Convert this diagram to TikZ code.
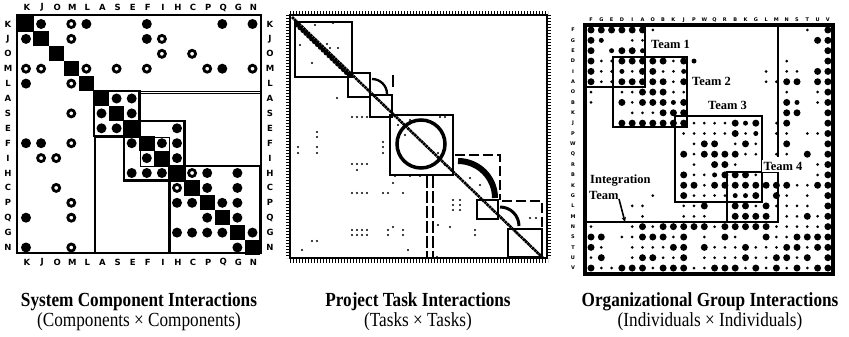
\documentclass[tikz,border=0pt]{standalone}
\usepackage{fontspec}
\setmainfont{Liberation Serif}
\newfontfamily\capfont[FakeStretch=0.86]{Liberation Serif}
\newfontfamily\labfont{DejaVu Sans}
\usetikzlibrary{arrows.meta}
\begin{document}
\begin{tikzpicture}[x=1pt,y=-1pt,
  lab/.style={font=\labfont\bfseries\fontsize{8.5}{8.5}\selectfont, inner sep=0pt},
  tinylab/.style={font=\labfont\bfseries\fontsize{5}{5}\selectfont, inner sep=0pt},
  teamlab/.style={font=\bfseries\fontsize{12.5}{13}\selectfont, inner sep=0pt, anchor=west},
  capA/.style={font=\capfont\bfseries\fontsize{20}{20}\selectfont, inner sep=0pt, anchor=base},
  capB/.style={font=\capfont\fontsize{20}{20}\selectfont, inner sep=0pt, anchor=base},
  thinbox/.style={line width=0.9pt},
  thickbox/.style={line width=2.2pt},
  dashbox/.style={line width=2pt, dash pattern=on 10pt off 4pt},
  ticks/.style={line width=3.5pt, dash pattern=on 1.2pt off 1.8pt}]
\useasboundingbox (0,0) rectangle (849,337);
\fill[white] (0,0) rectangle (849,337);

% ================= Panel 1 =================
\draw[line width=2.8pt] (17,15) rectangle (261,253);
\foreach \l [count=\i from 0] in {K,J,O,M,L,A,S,E,F,I,H,C,P,Q,G,N}{
  \node[lab] (p1t\i) at ({27+15.1*\i},7.5) {\l};
  \node[lab] (p1b\i) at ({27+15.1*\i},262) {\l};
  \node[lab] (p1l\i) at (8,{24+14.9*\i}) {\l};
  \node[lab] (p1r\i) at (270,{24+14.9*\i}) {\l};
  \fill ({26+15.1*\i-7.7},{24+14.9*\i-7.6}) rectangle +(15.4,15.2);
}
% region boxes
\draw[thinbox] (94,91) rectangle (260,253);
\draw[thinbox] (140,93) rectangle (260,166);
\draw[thinbox] (95,137) rectangle (169,253);
\draw[thickbox] (94,91) rectangle (139.5,136);
\draw[thickbox] (124,121) rectangle (184.5,180.5);
\draw[thickbox] (169.5,166) rectangle (260,253);
% filled marks
\foreach \r/\c in {0/1,0/4,0/8,0/13,0/15,1/0,1/8,3/13,4/0,5/6,5/7,6/5,6/7,7/5,7/6,7/10,
  8/0,8/1,8/7,8/9,8/10,9/8,9/10,10/7,10/8,10/9,10/12,10/14,11/12,11/14,
  12/10,12/11,12/13,12/14,13/0,13/12,13/14,14/10,14/11,14/12,14/13,14/15,15/0,15/14}
  \fill ({26+15.1*\c},{24+14.9*\r}) circle[radius=5pt];
% open marks
\foreach \r/\c in {0/3,1/3,1/9,2/9,2/11,3/0,3/1,3/4,3/6,3/8,3/12,3/15,4/3,6/3,8/3,
  9/1,9/2,10/11,11/2,11/10,12/3,13/3,15/3}
  \draw[line width=2.8pt] ({26+15.1*\c},{24+14.9*\r}) circle[radius=3.5pt];

% ================= Panel 2 =================
\draw[ticks] (290,13) -- (548,13);
\draw[ticks] (290,261) -- (548,261);
\draw[ticks] (288,15) -- (288,258);
\draw[ticks] (549,15) -- (549,258);
\draw[line width=1.5pt] (290,15) rectangle (547,258);
\foreach \k in {0,...,110}
  \fill ({293+\k*2.2636},{18+\k*2.1727}) circle[radius=1.9pt];
\foreach \k in {0,...,18}
  \fill ({297+\k*2.9},{25+\k*2.8}) circle[radius=2.4pt];
\draw[line width=1.8pt] (295,22) rectangle (352,77);
\draw[line width=1.4pt] (348,73) rectangle (370,97);
\draw[line width=1.1pt] (370,95) rectangle (392,117);
\draw[line width=1.1pt] (390,115) rectangle (453,175);
\draw[line width=1.1pt] (477,200) rectangle (498,219);
\draw[line width=1.1pt] (508,229) rectangle (542,257);
\draw[line width=2.3pt] (372,79) arc[start angle=90,end angle=0,radius=15pt];
\draw[line width=3.5pt] (421,144) circle[radius=24pt];
\draw[line width=6pt] (458,161) arc[start angle=90,end angle=0,radius=37pt];
\draw[line width=3pt] (500,207) arc[start angle=90,end angle=0,radius=19pt];
\draw[dashbox] (455,155) -- (500,155) -- (500,200);
\draw[dashbox] (502,201) -- (542,201) -- (542,230);
\draw[line width=2pt] (393,75) -- (393,87);
\draw[line width=2pt, dash pattern=on 12pt off 3pt] (427,176) -- (427,258);
\draw[line width=2pt, dash pattern=on 12pt off 3pt] (433,176) -- (433,258);
\foreach \p in {(337,98),(352,117),(357,117),(362,117),(367,117),(317,132),(317,137),
  (298,147),(298,153),(317,147),(317,153),(383,142),(383,147),(383,153),
  (352,164),(357,164),(362,164),(367,164),(357,170),(390,163),
  (352,193),(357,193),(362,193),(367,193),(383,193),(388,193),(403,193),(393,183),
  (352,230),(357,230),(362,230),(367,230),(388,230),(403,230),
  (352,235),(357,235),(362,235),(367,235),(388,235),(403,235),
  (312,241),(317,241),(302,250),(408,250),(393,227),
  (453,200),(453,205),(453,210),(460,200),(460,205),(460,210),
  (475,230),(475,235),(438,225),(450,227),(437,257),(448,258),(393,258),
  (312,63),(330,48),(338,48),(327,44),(300,45),(315,25),(333,23),
  (400,120),(410,120),(420,120),(440,117),(445,117),(398,125),(398,140),(398,150),
  (405,135),(438,153),(445,165),(395,176),(410,176),(420,176),
  (470,178),(480,185),(490,200),(516,232),(525,240),(530,218),(536,218)}
  \fill \p circle[radius=1.1pt];

% ================= Panel 3 =================
\draw[line width=3.2pt] (585,25) rectangle (833,274);
\foreach \l [count=\i from 0] in {F,G,E,D,I,A,O,B,K,J,P,W,Q,R,B,K,G,L,M,N,S,T,U,V}{
  \node[tinylab] (p3t\i) at ({591+10.3*\i},20) {\l};
  \node[tinylab] (p3l\i) at (573,{30+10.35*\i}) {\l};
}
\foreach \row [count=\r from 0] in {
 {3,3,3,3,3,3,1,0,0,0,0,0,0,0,0,0,0,0,0,0,0,1,0,3},
 {3,2,0,0,1,1,0,0,0,0,0,0,0,0,0,0,0,0,0,0,0,0,3,3},
 {3,0,2,3,3,2,0,0,0,0,0,0,0,0,0,0,0,0,0,0,0,0,0,3},
 {3,1,1,3,3,3,3,3,1,3,2,0,0,0,0,0,0,0,0,1,0,0,0,3},
 {3,1,1,2,1,3,3,1,1,2,0,0,0,0,0,0,0,1,0,1,1,0,3,3},
 {3,1,1,3,3,3,3,3,1,3,0,0,0,0,0,0,0,1,1,3,3,0,3,3},
 {1,0,0,1,1,3,3,3,1,1,0,0,0,0,0,0,0,0,0,1,0,0,1,3},
 {1,0,0,3,1,3,3,3,2,3,0,0,0,0,0,0,0,0,0,3,2,0,1,3},
 {0,0,0,0,1,1,1,3,3,3,0,0,0,0,0,0,0,0,0,3,3,0,0,3},
 {0,0,0,3,3,3,3,3,3,3,1,1,1,1,3,2,3,0,1,3,0,0,0,3},
 {0,0,0,0,0,0,0,0,0,1,1,1,1,1,3,1,2,0,1,1,0,1,1,3},
 {0,0,0,0,0,0,0,0,0,0,1,3,3,0,1,3,1,0,0,3,0,0,0,3},
 {0,0,0,0,0,0,0,0,0,3,1,3,3,3,3,1,1,0,1,1,0,3,0,3},
 {0,0,0,0,0,0,0,0,0,0,1,0,3,3,1,0,0,0,0,0,0,0,1,3},
 {0,0,0,0,0,0,0,0,0,3,1,1,2,3,3,3,1,0,0,0,0,0,1,3},
 {0,0,0,0,0,0,0,0,0,3,3,1,3,3,3,3,3,3,3,3,1,1,3,3},
 {0,0,0,0,0,0,1,0,0,3,1,1,1,1,2,2,3,0,3,1,0,1,0,3},
 {0,0,0,0,1,1,0,0,0,1,1,3,0,0,3,3,1,3,1,1,1,1,0,3},
 {0,0,0,0,0,1,0,0,0,1,1,1,0,0,3,3,3,3,0,1,1,3,1,3},
 {1,0,0,0,1,3,1,3,3,3,3,3,1,3,3,3,3,3,1,1,1,1,1,3},
 {3,3,0,1,1,3,3,3,1,3,0,1,0,3,1,0,0,3,1,1,3,3,3,3},
 {3,1,0,0,1,1,1,1,3,3,0,3,1,1,1,3,1,1,1,3,3,1,3,3},
 {1,3,0,0,1,3,3,1,1,3,0,1,1,1,1,3,1,1,3,3,1,3,0,3},
 {3,1,1,3,3,3,1,3,3,3,1,1,3,3,3,1,3,1,3,1,3,1,3,3}}{
  \foreach \s [count=\c from 0] in \row {
    \pgfmathsetmacro\rr{(\s==1)*1.5+(\s==2)*2.5+(\s==3)*3.5}
    \ifdim\rr pt>0pt \fill ({591+10.3*\c},{30+10.35*\r}) circle[radius=\rr pt];\fi
  }
}
\draw[line width=2.6pt] (586,26) rectangle (645,87);
\draw[line width=2.6pt] (613,57) rectangle (687,127);
\draw[line width=2.6pt] (675,116) rectangle (762,202);
\draw[line width=2.6pt] (727,172) rectangle (778,222);
\draw[line width=2.6pt] (585,222) -- (778,222);
\draw[line width=2pt] (778,25) -- (778,157);
\node[teamlab] (tm1) at (651,44) {Team 1};
\node[teamlab] (tm2) at (692,81) {Team 2};
\node[teamlab] (tm3) at (708,105) {Team 3};
\node[teamlab, fill=white, inner sep=1.5pt] (tm4) at (762,166) {Team 4};
\node[teamlab] (int1) at (590,181) {Integration};
\node[teamlab] (int2) at (589,195) {Team};
\coordinate (arrtail) at (619,199);
\coordinate (arrhead) at (625,222);
\draw[line width=1.6pt, -{Stealth[length=5pt,width=4.5pt]}] (arrtail) -- (arrhead);

% ================= Captions =================
\node[capA] (c1a) at (139,306) {System Component Interactions};
\node[capB] (c1b) at (139,326) {(Components × Components)};
\node[capA] (c2a) at (418,306) {Project Task Interactions};
\node[capB] (c2b) at (418,326) {(Tasks × Tasks)};
\node[capA] (c3a) at (710,306) {Organizational Group Interactions};
\node[capB] (c3b) at (710,326) {(Individuals × Individuals)};
\end{tikzpicture}
\end{document}
